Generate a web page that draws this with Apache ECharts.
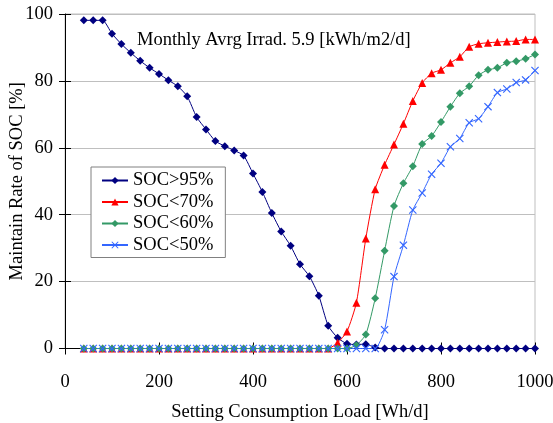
<!DOCTYPE html>
<html>
<head>
<meta charset="utf-8">
<script src="https://cdn.jsdelivr.net/npm/echarts@6/dist/echarts.min.js"></script>
<style>
  html, body { margin: 0; padding: 0; background: #fff; }
  #chart { width: 553px; height: 423px; }
</style>
</head>
<body>
<div id="chart"></div>
<script>
// setting consumption load [Wh/d]
const loads = [40, 60, 80, 100, 120, 140, 160, 180, 200, 220, 240, 260, 280, 300, 320, 340, 360, 380, 400, 420,
  440, 460, 480, 500, 520, 540, 560, 580, 600, 620, 640, 660, 680, 700, 720, 740, 760, 780, 800, 820,
  840, 860, 880, 900, 920, 940, 960, 980, 1000]

// maintain rate [%]
const soc95 = [98.1, 98.1, 98.1, 94.1, 91.0, 88.4, 86.0, 83.9, 82.1, 80.2, 78.4, 75.4, 69.2, 65.5, 62.0, 60.5, 59.2, 57.7, 52.3, 46.8,
  40.5, 35.0, 30.7, 25.2, 21.6, 15.8, 6.8, 3.2, 1.4, 1.2, 1.3, 0.3, 0, 0, 0, 0, 0, 0, 0, 0,
  0, 0, 0, 0, 0, 0, 0, 0, 0]
const soc70 = [0, 0, 0, 0, 0, 0, 0, 0, 0, 0, 0, 0, 0, 0, 0, 0, 0, 0, 0, 0,
  0, 0, 0, 0, 0, 0, 0, 1.7, 5.1, 13.7, 32.9, 47.6, 54.9, 61.0, 67.2, 74.0, 79.4, 82.3, 83.3, 85.4,
  87.2, 90.2, 91.1, 91.4, 91.6, 91.8, 91.9, 92.4, 92.4]
const soc60 = [0, 0, 0, 0, 0, 0, 0, 0, 0, 0, 0, 0, 0, 0, 0, 0, 0, 0, 0, 0,
  0, 0, 0, 0, 0, 0, 0, 0, 0, 1.0, 4.2, 15.0, 29.2, 42.6, 49.4, 54.5, 61.1, 63.5, 67.7, 72.3,
  76.3, 78.4, 81.7, 83.3, 83.9, 85.4, 85.9, 86.6, 87.9]
const soc50 = [0, 0, 0, 0, 0, 0, 0, 0, 0, 0, 0, 0, 0, 0, 0, 0, 0, 0, 0, 0,
  0, 0, 0, 0, 0, 0, 0, 0, 0, 0, 0, 0, 5.6, 21.5, 30.9, 41.4, 46.5, 52.1, 55.4, 60.3,
  62.8, 67.5, 68.7, 72.3, 76.5, 77.6, 79.5, 80.3, 83.1]

const seriesNames = ['SOC>95%', 'SOC<70%', 'SOC<60%', 'SOC<50%']

const FONT = 'Liberation Serif'
const FS = 18.5
const CROSS = 'path://M0,1L1,0L5,4L9,0L10,1L6,5L10,9L9,10L5,6L1,10L0,9L4,5Z'

const pairs = (ys) => loads.map((x, i) => [x, ys[i]])

const makeSeries = (name, ys, color, symbol, size) => ({
  name,
  type: 'line',
  data: pairs(ys),
  smooth: 0.2,
  symbol,
  symbolSize: size,
  showSymbol: true,
  lineStyle: { color, width: 1 },
  itemStyle: { color },
  emphasis: { disabled: true },
  animation: false,
})

const chart = echarts.init(document.getElementById('chart'))

chart.setOption({
  animation: false,
  backgroundColor: '#fff',
  textStyle: { fontFamily: FONT },
  title: {
    text: 'Monthly Avrg Irrad. 5.9 [kWh/m2/d]',
    left: 137,
    top: 31,
    padding: 0,
    textStyle: { fontFamily: FONT, fontSize: FS, fontWeight: 'normal', color: '#000' },
  },
  grid: {
    left: 65,
    right: 18,
    top: 14,
    bottom: 74.5,
    show: true,
    borderColor: '#bfbfbf',
    borderWidth: 1,
    containLabel: false,
    outerBoundsMode: 'none',
  },
  legend: {
    orient: 'vertical',
    left: 91,
    top: 167,
    padding: [4, 12, 3, 10],
    itemGap: 2.5,
    itemWidth: 26,
    itemHeight: 9,
    backgroundColor: '#fff',
    borderColor: '#808080',
    borderWidth: 1,
    textStyle: { fontFamily: FONT, fontSize: FS, color: '#000' },
    data: seriesNames,
  },
  xAxis: [
    {
      type: 'value',
      min: 0,
      max: 1000,
      interval: 200,
      name: 'Setting Consumption Load [Wh/d]',
      nameLocation: 'middle',
      nameGap: 54,
      nameMoveOverlap: false,
      nameTextStyle: { fontFamily: FONT, fontSize: FS, color: '#000' },
      axisLine: { show: true, lineStyle: { color: '#000', width: 1 } },
      axisTick: { show: true, inside: false, length: 6, lineStyle: { color: '#000' } },
      axisLabel: {
        margin: 24,
        fontFamily: FONT,
        fontSize: FS,
        color: '#000',
        formatter: (v) => String(v),
      },
      splitLine: { show: false },
    },
    {
      type: 'value',
      min: 0,
      max: 1000,
      interval: 200,
      position: 'bottom',
      axisLine: { show: false },
      axisTick: { show: true, inside: true, length: 6, lineStyle: { color: '#000' } },
      axisLabel: { show: false },
      splitLine: { show: false },
    },
  ],
  yAxis: [
    {
      type: 'value',
      min: 0,
      max: 100,
      interval: 20,
      name: 'Maintain Rate of SOC [%]',
      nameLocation: 'middle',
      nameGap: 38,
      nameMoveOverlap: false,
      nameTextStyle: { fontFamily: FONT, fontSize: FS, color: '#000' },
      axisLine: { show: true, lineStyle: { color: '#000', width: 1 } },
      axisTick: { show: true, inside: false, length: 6, lineStyle: { color: '#000' } },
      axisLabel: { margin: 12, fontFamily: FONT, fontSize: FS, color: '#000' },
      splitLine: { show: true, lineStyle: { color: '#bfbfbf', width: 1 } },
    },
    {
      type: 'value',
      min: 0,
      max: 100,
      interval: 20,
      position: 'left',
      axisLine: { show: false },
      axisTick: { show: true, inside: true, length: 6, lineStyle: { color: '#000' } },
      axisLabel: { show: false },
      splitLine: { show: false },
    },
  ],
  series: [
    makeSeries(seriesNames[0], soc95, '#000080', 'diamond', 8),
    makeSeries(seriesNames[1], soc70, '#ff0000', 'triangle', 8),
    makeSeries(seriesNames[2], soc60, '#339966', 'diamond', 8),
    makeSeries(seriesNames[3], soc50, '#3366ff', CROSS, 8),
  ],
})
</script>
</body>
</html>
